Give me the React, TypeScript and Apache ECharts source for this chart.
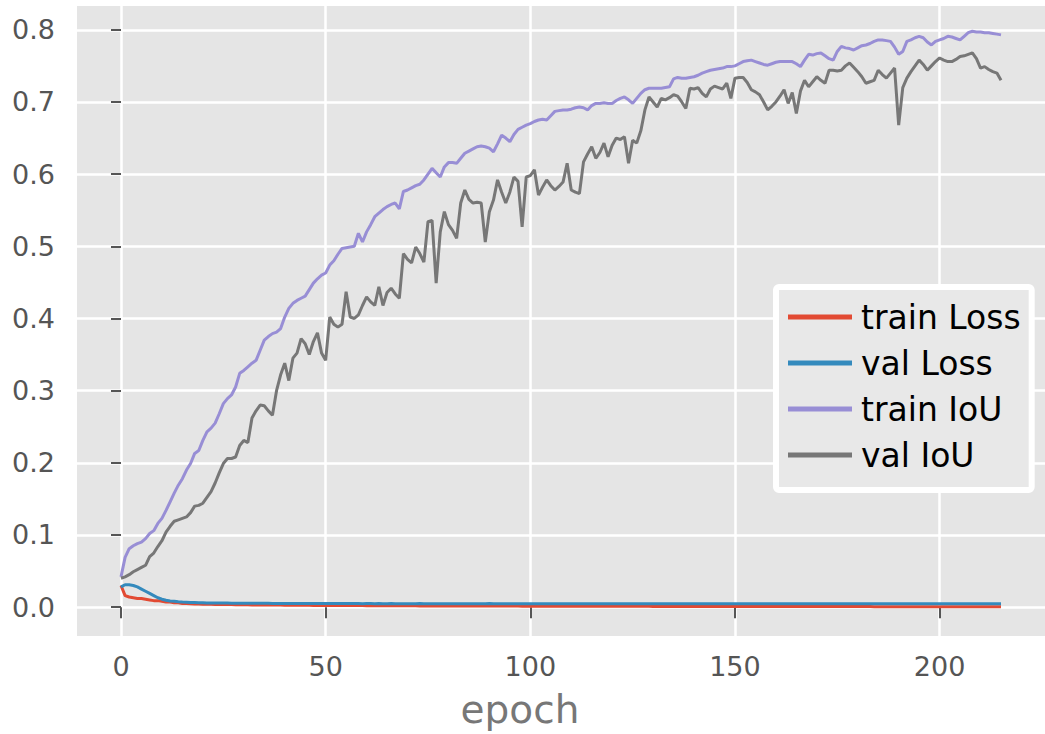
import React, { useEffect, useRef } from "react";
import * as echarts from "echarts";

// Per-epoch training history (epochs 0..215)
const trainLoss: number[] = [
  0.030, 0.016, 0.014, 0.013, 0.012, 0.012, 0.011, 0.010, 0.009, 0.009,
  0.008, 0.007, 0.007, 0.006, 0.006, 0.005, 0.005, 0.0048, 0.0045, 0.0043,
  0.0041, 0.0040, 0.0039, 0.0038, 0.0037, 0.0036, 0.0035, 0.0035, 0.0034, 0.0033,
  0.0033, 0.0032, 0.0031, 0.0031, 0.0030, 0.0030, 0.0029, 0.0029, 0.0028, 0.0028,
  0.0027, 0.0027, 0.0026, 0.0026, 0.0026, 0.0025, 0.0025, 0.0024, 0.0024, 0.0024,
  0.0023, 0.0023, 0.0023, 0.0022, 0.0022, 0.0022, 0.0021, 0.0021, 0.0021, 0.0021,
  0.0020, 0.0020, 0.0020, 0.0020, 0.0019, 0.0019, 0.0019, 0.0019, 0.0018, 0.0018,
  0.0018, 0.0018, 0.0018, 0.0017, 0.0017, 0.0017, 0.0017, 0.0017, 0.0016, 0.0016,
  0.0016, 0.0016, 0.0016, 0.0016, 0.0015, 0.0015, 0.0015, 0.0015, 0.0015, 0.0015,
  0.0015, 0.0014, 0.0014, 0.0014, 0.0014, 0.0014, 0.0014, 0.0014, 0.0013, 0.0013,
  0.0013, 0.0013, 0.0013, 0.0013, 0.0013, 0.0013, 0.0013, 0.0012, 0.0012, 0.0012,
  0.0012, 0.0012, 0.0012, 0.0012, 0.0012, 0.0012, 0.0011, 0.0011, 0.0011, 0.0011,
  0.0011, 0.0011, 0.0011, 0.0011, 0.0011, 0.0011, 0.0011, 0.0011, 0.0011, 0.0011,
  0.0010, 0.0010, 0.0010, 0.0010, 0.0010, 0.0010, 0.0010, 0.0010, 0.0010, 0.0010,
  0.0010, 0.0010, 0.0010, 0.0010, 0.0010, 0.0010, 0.0010, 0.0010, 0.0009, 0.0009,
  0.0009, 0.0009, 0.0009, 0.0009, 0.0009, 0.0009, 0.0009, 0.0009, 0.0009, 0.0009,
  0.0009, 0.0009, 0.0009, 0.0009, 0.0008, 0.0008, 0.0008, 0.0008, 0.0008, 0.0008,
  0.0008, 0.0008, 0.0008, 0.0008, 0.0008, 0.0008, 0.0008, 0.0008, 0.0008, 0.0008,
  0.0008, 0.0008, 0.0008, 0.0008, 0.0007, 0.0007, 0.0007, 0.0007, 0.0007, 0.0007,
  0.0007, 0.0007, 0.0007, 0.0007, 0.0007, 0.0007, 0.0007, 0.0007, 0.0007, 0.0007,
  0.0007, 0.0007, 0.0007, 0.0007, 0.0006, 0.0006, 0.0006, 0.0006, 0.0006, 0.0006,
  0.0006, 0.0006, 0.0006, 0.0006, 0.0006, 0.0006,
];

const valLoss: number[] = [
  0.028, 0.031, 0.031, 0.030, 0.028, 0.025, 0.022, 0.019, 0.016, 0.013,
  0.011, 0.0095, 0.0085, 0.0080, 0.0075, 0.0071, 0.0068, 0.0065, 0.0063, 0.0061,
  0.0060, 0.0059, 0.0058, 0.0057, 0.0057, 0.0056, 0.0056, 0.0055, 0.0055, 0.0055,
  0.0054, 0.0054, 0.0054, 0.0053, 0.0053, 0.0053, 0.0053, 0.0052, 0.0052, 0.0052,
  0.0052, 0.0051, 0.0051, 0.0051, 0.0050, 0.0050, 0.0051, 0.0050, 0.0050, 0.0050,
  0.0049, 0.0050, 0.0050, 0.0049, 0.0049, 0.0050, 0.0049, 0.0049, 0.0049, 0.0048,
  0.0049, 0.0049, 0.0048, 0.0049, 0.0048, 0.0048, 0.0049, 0.0048, 0.0048, 0.0048,
  0.0047, 0.0048, 0.0048, 0.0049, 0.0048, 0.0048, 0.0047, 0.0048, 0.0048, 0.0047,
  0.0048, 0.0048, 0.0047, 0.0048, 0.0048, 0.0047, 0.0047, 0.0048, 0.0047, 0.0048,
  0.0049, 0.0047, 0.0047, 0.0048, 0.0047, 0.0047, 0.0048, 0.0047, 0.0047, 0.0048,
  0.0047, 0.0047, 0.0048, 0.0047, 0.0046, 0.0047, 0.0048, 0.0047, 0.0047, 0.0046,
  0.0047, 0.0048, 0.0047, 0.0047, 0.0046, 0.0047, 0.0047, 0.0048, 0.0047, 0.0046,
  0.0047, 0.0047, 0.0046, 0.0047, 0.0048, 0.0047, 0.0046, 0.0047, 0.0047, 0.0046,
  0.0047, 0.0046, 0.0047, 0.0047, 0.0048, 0.0047, 0.0046, 0.0047, 0.0046, 0.0047,
  0.0047, 0.0046, 0.0047, 0.0048, 0.0047, 0.0046, 0.0047, 0.0047, 0.0046, 0.0047,
  0.0048, 0.0047, 0.0046, 0.0047, 0.0047, 0.0046, 0.0047, 0.0047, 0.0048, 0.0047,
  0.0046, 0.0047, 0.0047, 0.0046, 0.0047, 0.0048, 0.0047, 0.0046, 0.0047, 0.0047,
  0.0046, 0.0047, 0.0047, 0.0048, 0.0047, 0.0046, 0.0047, 0.0047, 0.0046, 0.0047,
  0.0048, 0.0047, 0.0046, 0.0047, 0.0047, 0.0046, 0.0047, 0.0048, 0.0047, 0.0046,
  0.0047, 0.0047, 0.0046, 0.0047, 0.0048, 0.0047, 0.0046, 0.0047, 0.0047, 0.0046,
  0.0047, 0.0048, 0.0047, 0.0046, 0.0047, 0.0047, 0.0046, 0.0047, 0.0048, 0.0047,
  0.0046, 0.0047, 0.0047, 0.0046, 0.0047, 0.0047,
];

const trainIoU: number[] = [
  0.042, 0.069, 0.081, 0.085, 0.088, 0.090, 0.095, 0.102, 0.106, 0.116,
  0.123, 0.134, 0.146, 0.158, 0.169, 0.178, 0.190, 0.199, 0.213, 0.217,
  0.231, 0.243, 0.248, 0.255, 0.268, 0.282, 0.289, 0.294, 0.305, 0.324,
  0.328, 0.333, 0.338, 0.342, 0.356, 0.370, 0.375, 0.379, 0.381, 0.386,
  0.402, 0.414, 0.421, 0.425, 0.428, 0.431, 0.440, 0.449, 0.455, 0.460,
  0.463, 0.474, 0.480, 0.489, 0.497, 0.498, 0.499, 0.500, 0.518, 0.506,
  0.520, 0.530, 0.541, 0.546, 0.551, 0.555, 0.558, 0.560, 0.552, 0.576,
  0.578, 0.581, 0.584, 0.586, 0.592, 0.600, 0.608, 0.602, 0.596, 0.610,
  0.616, 0.616, 0.615, 0.622, 0.629, 0.632, 0.635, 0.638, 0.639, 0.638,
  0.636, 0.631, 0.642, 0.654, 0.650, 0.645, 0.655, 0.662, 0.665, 0.668,
  0.670, 0.673, 0.675, 0.676, 0.675, 0.681, 0.687, 0.688, 0.689, 0.689,
  0.690, 0.692, 0.693, 0.692, 0.689, 0.695, 0.698, 0.698, 0.699, 0.698,
  0.698, 0.702, 0.705, 0.707, 0.703, 0.698, 0.705, 0.712, 0.717, 0.719,
  0.719, 0.719, 0.719, 0.720, 0.721, 0.732, 0.734, 0.733, 0.733, 0.734,
  0.735, 0.737, 0.740, 0.742, 0.744, 0.745, 0.746, 0.747, 0.749, 0.749,
  0.750, 0.753, 0.756, 0.757, 0.758, 0.756, 0.754, 0.752, 0.751, 0.753,
  0.755, 0.756, 0.756, 0.756, 0.756, 0.753, 0.749, 0.758, 0.766, 0.765,
  0.767, 0.768, 0.764, 0.760, 0.758, 0.770, 0.777, 0.775, 0.774, 0.772,
  0.775, 0.778, 0.779, 0.781, 0.784, 0.786, 0.786, 0.785, 0.784, 0.776,
  0.766, 0.770, 0.784, 0.786, 0.789, 0.791, 0.789, 0.783, 0.779, 0.784,
  0.786, 0.788, 0.791, 0.790, 0.788, 0.786, 0.791, 0.796, 0.798, 0.797,
  0.797, 0.796, 0.796, 0.795, 0.794, 0.793,
];

const valIoU: number[] = [
  0.040, 0.042, 0.045, 0.049, 0.052, 0.055, 0.058, 0.070, 0.075, 0.084,
  0.092, 0.104, 0.112, 0.119, 0.121, 0.123, 0.125, 0.131, 0.140, 0.141,
  0.144, 0.152, 0.160, 0.172, 0.186, 0.199, 0.206, 0.206, 0.208, 0.224,
  0.231, 0.228, 0.262, 0.272, 0.280, 0.279, 0.272, 0.266, 0.300, 0.322,
  0.338, 0.314, 0.345, 0.352, 0.372, 0.365, 0.350, 0.368, 0.380, 0.352,
  0.342, 0.402, 0.392, 0.388, 0.392, 0.437, 0.402, 0.400, 0.405, 0.418,
  0.430, 0.423, 0.418, 0.444, 0.418, 0.436, 0.442, 0.434, 0.428, 0.490,
  0.482, 0.477, 0.499, 0.490, 0.478, 0.534, 0.536, 0.449, 0.520, 0.548,
  0.530, 0.522, 0.511, 0.560, 0.578, 0.565, 0.560, 0.561, 0.560, 0.506,
  0.548, 0.564, 0.592, 0.575, 0.560, 0.575, 0.596, 0.590, 0.527, 0.596,
  0.598, 0.606, 0.571, 0.582, 0.592, 0.584, 0.578, 0.583, 0.589, 0.615,
  0.578, 0.575, 0.573, 0.617, 0.628, 0.638, 0.622, 0.630, 0.643, 0.624,
  0.640, 0.650, 0.648, 0.652, 0.615, 0.647, 0.643, 0.660, 0.689, 0.707,
  0.700, 0.693, 0.705, 0.703, 0.706, 0.710, 0.708, 0.700, 0.691, 0.719,
  0.718, 0.720, 0.712, 0.707, 0.718, 0.722, 0.720, 0.718, 0.726, 0.705,
  0.733, 0.734, 0.734, 0.727, 0.717, 0.714, 0.710, 0.700, 0.689, 0.694,
  0.700, 0.708, 0.717, 0.698, 0.713, 0.684, 0.715, 0.730, 0.721, 0.728,
  0.735, 0.730, 0.726, 0.744, 0.744, 0.743, 0.744, 0.750, 0.754, 0.748,
  0.742, 0.735, 0.726, 0.728, 0.730, 0.744, 0.738, 0.733, 0.740, 0.747,
  0.668, 0.720, 0.733, 0.742, 0.750, 0.758, 0.752, 0.744, 0.750, 0.756,
  0.761, 0.758, 0.756, 0.756, 0.759, 0.763, 0.764, 0.766, 0.768, 0.760,
  0.747, 0.749, 0.745, 0.742, 0.740, 0.730,
];

const seriesNames = ["train Loss", "val Loss", "train IoU", "val IoU"];
const seriesColors = ["#E24A33", "#348ABD", "#988ED5", "#777777"];
const xTicks = [0, 50, 100, 150, 200];
const yTicks = [0, 0.1, 0.2, 0.3, 0.4, 0.5, 0.6, 0.7, 0.8];

const FONT = "DejaVu Sans";

function toPoints(values: number[]): [number, number][] {
  return values.map((v, epoch) => [epoch, v]);
}

export default function App() {
  const ref = useRef<HTMLDivElement>(null);

  useEffect(() => {
    if (!ref.current) return;
    const chart = echarts.init(ref.current, undefined, { renderer: "svg" });
    const allSeries = [trainLoss, valLoss, trainIoU, valIoU];

    chart.setOption({
      animation: false,
      backgroundColor: "#ffffff",
      grid: {
        left: 77,
        right: -9,
        top: 6,
        bottom: 98,
        show: true,
        backgroundColor: "#E5E5E5",
        borderWidth: 0,
      },
      xAxis: {
        type: "value",
        min: -10.75,
        max: 225.75,
        axisLine: { show: false },
        axisTick: {
          show: true,
          length: 11,
          customValues: xTicks,
          lineStyle: { color: "#555555", width: 2 },
        },
        axisLabel: {
          customValues: xTicks,
          fontSize: 27,
          color: "#555555",
          fontFamily: FONT,
          margin: 17,
        },
        splitLine: { show: true, lineStyle: { color: "#ffffff", width: 2.5 } },
        name: "epoch",
        nameLocation: "middle",
        nameGap: 54,
        nameTextStyle: {
          fontSize: 39,
          color: "#777777",
          fontFamily: FONT,
          padding: [0, 82, 0, 0],
        },
      },
      yAxis: {
        type: "value",
        min: -0.04,
        max: 0.833,
        axisLine: { show: false },
        axisTick: {
          show: true,
          length: 10,
          customValues: yTicks,
          lineStyle: { color: "#555555", width: 2 },
        },
        axisLabel: {
          customValues: yTicks,
          formatter: (v: number) => v.toFixed(1),
          fontSize: 27,
          color: "#555555",
          fontFamily: FONT,
          margin: 22,
        },
        splitLine: { show: true, lineStyle: { color: "#ffffff", width: 2.5 } },
      },
      legend: {
        orient: "vertical",
        left: 776,
        top: 287,
        data: seriesNames,
        icon: "rect",
        itemWidth: 64,
        itemHeight: 5,
        itemGap: 10,
        padding: [12, 11, 17, 12],
        backgroundColor: "#E8E8E8",
        borderColor: "#ffffff",
        borderWidth: 6,
        borderRadius: 3,
        textStyle: {
          fontSize: 33,
          lineHeight: 36,
          color: "#000000",
          fontFamily: FONT,
          padding: [0, 0, 0, 4],
        },
      },
      series: allSeries.map((values, i) => ({
        name: seriesNames[i],
        type: "line",
        data: toPoints(values),
        showSymbol: false,
        symbol: "none",
        color: seriesColors[i],
        lineStyle: { color: seriesColors[i], width: 3 },
      })),
    });

    return () => chart.dispose();
  }, []);

  return (
    <div
      ref={ref}
      style={{ position: "absolute", left: 0, top: 0, width: 1045, height: 734 }}
    />
  );
}
